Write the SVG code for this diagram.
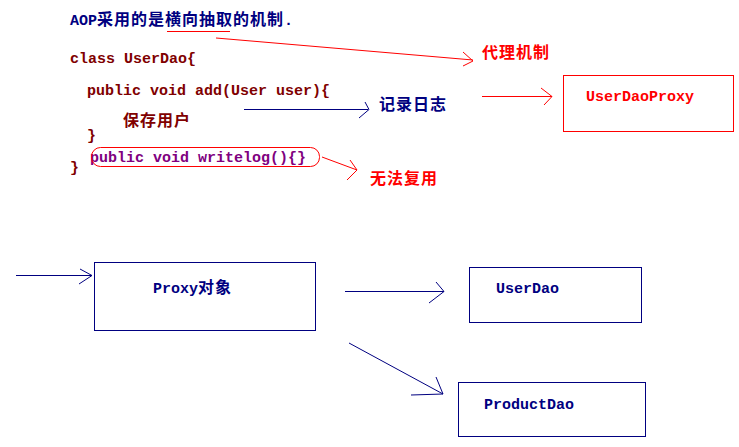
<svg xmlns="http://www.w3.org/2000/svg" width="739" height="447" viewBox="0 0 739 447">
<style>
.t{font-family:"Liberation Mono","Noto Sans CJK SC",monospace;font-weight:bold;font-size:15px}
.cj{font-family:"Noto Sans CJK SC",sans-serif;font-weight:bold;font-size:16px;letter-spacing:1px}
.blue{fill:#000080}.red{fill:#FF0000}.dred{fill:#800000}.purp{fill:#800080}
.lb{fill:none;stroke:#000080;stroke-width:1}
.lr{fill:none;stroke:#FF0000;stroke-width:1}
</style>
<rect width="739" height="447" fill="#fff"/>
<g id="code">
<text class="t blue" x="70" y="25">AOP<tspan class="cj">采用的是横向抽取的机制</tspan>.</text>
<text class="t dred" x="70" y="63" xml:space="preserve">class UserDao{</text>
<text class="t dred" x="87" y="95" xml:space="preserve">public void add(User user){</text>
<text class="cj dred" x="123" y="126">保存用户</text>
<text class="t dred" x="87" y="140">}</text>
<text class="t purp" x="90" y="162" xml:space="preserve">public void writelog(){}</text>
<text class="t dred" x="70" y="172">}</text>
<rect class="lr" x="91.5" y="147.5" width="228" height="19" rx="9"/>
</g>
<g id="labels">
<text class="cj red" x="482" y="58">代理机制</text>
<text class="cj blue" x="379" y="110">记录日志</text>
<text class="cj red" x="370" y="184">无法复用</text>
</g>
<g id="userDaoProxy">
<rect class="lr" x="563.5" y="75.5" width="170" height="56"/>
<text class="t red" x="586" y="101">UserDaoProxy</text>
</g>
<g id="proxy">
<rect class="lb" x="94.5" y="262.5" width="221" height="68"/>
<text class="t blue" x="153" y="293">Proxy<tspan class="cj">对象</tspan></text>
</g>
<g id="userDao">
<rect class="lb" x="469.5" y="267.5" width="172" height="55"/>
<text class="t blue" x="496" y="293">UserDao</text>
</g>
<g id="productDao">
<rect class="lb" x="458.5" y="382.5" width="187" height="54"/>
<text class="t blue" x="484" y="409">ProductDao</text>
</g>
<g id="connectors">
<line class="lr" x1="167" y1="31.5" x2="230" y2="31.5"/>
<line class="lr" x1="216" y1="38" x2="473" y2="60"/>
<path class="lr" d="M463 52 L473 61 L463 66"/>
<line class="lr" x1="482" y1="96.5" x2="552" y2="96.5"/>
<path class="lr" d="M541 88 L552 96.5 L544 105"/>
<line class="lb" x1="244" y1="109.5" x2="368" y2="109.5"/>
<path class="lb" d="M365 102 L369 109.5 L359 118"/>
<line class="lr" x1="322" y1="157" x2="357" y2="170"/>
<path class="lr" d="M350 160 L357 170 L347 180"/>
<line class="lb" x1="16" y1="275.5" x2="92" y2="275.5"/>
<path class="lb" d="M80 269 L92 275.5 L79 284"/>
<line class="lb" x1="345" y1="291.5" x2="444" y2="291.5"/>
<path class="lb" d="M436 282 L444 291.5 L429 303"/>
<line class="lb" x1="349" y1="343" x2="443" y2="394"/>
<path class="lb" d="M436 377 L443 394 L411 395"/>
</g>
</svg>
